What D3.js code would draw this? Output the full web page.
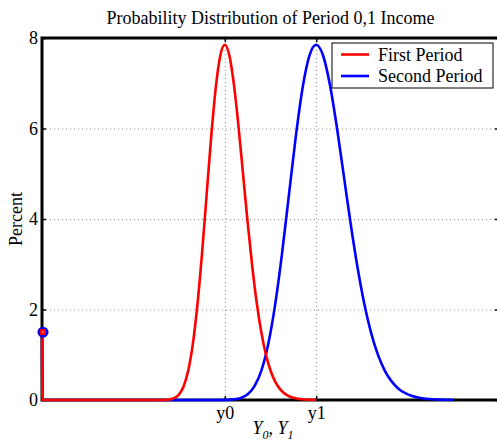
<!DOCTYPE html>
<html>
<head>
<meta charset="utf-8">
<script src="https://cdn.jsdelivr.net/npm/d3@7"></script>
<style>
  html, body { margin: 0; padding: 0; background: #fff; }
  svg { display: block; font-family: "Liberation Serif", "Times New Roman", serif; }
</style>
</head>
<body>
<svg id="chart" width="497" height="444"></svg>
<script>
// Income grid and percent for the first period distribution (mass point at 0 first)
const firstIncome = [0, 0.1, 26, 27, 28, 29, 30, 31, 32, 33, 34, 35, 36, 37, 38, 39, 40,
  41, 42, 43, 44, 45, 46, 47, 48, 49, 50, 51, 52, 53, 54, 55, 56, 57, 58, 59, 60];
const firstPercent = [1.5, 0, 0.001, 0.003, 0.014, 0.045, 0.125, 0.305, 0.651, 1.234, 2.096,
  3.219, 4.507, 5.793, 6.883, 7.603, 7.85, 7.614, 6.969, 6.044, 4.985, 3.923, 2.956, 2.139,
  1.490, 1.002, 0.651, 0.411, 0.251, 0.150, 0.087, 0.049, 0.027, 0.015, 0.008, 0.004, 0.002];

// Income grid and percent for the second period distribution
const secondIncome = [0, 0.1, 39, 40.5, 42, 43.5, 45, 46.5, 48, 49.5, 51, 52.5, 54, 55.5, 57,
  58.5, 60, 61.5, 63, 64.5, 66, 67.5, 69, 70.5, 72, 73.5, 75, 76.5, 78, 79.5, 81, 82.5, 84,
  85.5, 87, 88.5, 90];
const secondPercent = [1.5, 0, 0.001, 0.003, 0.014, 0.045, 0.125, 0.305, 0.651, 1.234, 2.096,
  3.219, 4.507, 5.793, 6.883, 7.603, 7.85, 7.614, 6.969, 6.044, 4.985, 3.923, 2.956, 2.139,
  1.490, 1.002, 0.651, 0.411, 0.251, 0.150, 0.087, 0.049, 0.027, 0.015, 0.008, 0.004, 0.002];

const yTicks = [0, 2, 4, 6, 8];
const xTicks = [40, 60];
const xTickLabels = ["y0", "y1"];
const seriesNames = ["First Period", "Second Period"];
const seriesColors = ["#ff0000", "#0000ff"];

const svg = d3.select("#chart");
const plotL = 42, plotR = 499, plotT = 38, plotB = 400;
const FS = 18;

const x = d3.scaleLinear().domain([0, 100]).range([plotL, plotR]);
const y = d3.scaleLinear().domain([0, 8]).range([plotB, plotT]);

// Title
svg.append("text")
  .attr("x", (plotL + plotR) / 2).attr("y", 24)
  .attr("text-anchor", "middle")
  .attr("font-size", FS)
  .text("Probability Distribution of Period 0,1 Income");

// Dotted grid
const grid = svg.append("g").attr("stroke", "#8c8c8c").attr("stroke-width", 1)
  .attr("stroke-dasharray", "1,3");
grid.selectAll("line.h").data(yTicks.filter(v => v > 0 && v < 8)).join("line")
  .attr("class", "h")
  .attr("x1", plotL).attr("x2", plotR)
  .attr("y1", d => y(d) + 0.5).attr("y2", d => y(d) + 0.5);
grid.selectAll("line.v").data(xTicks).join("line")
  .attr("class", "v")
  .attr("y1", plotT).attr("y2", plotB)
  .attr("x1", d => x(d) + 0.5).attr("x2", d => x(d) + 0.5);

// Axes box
svg.append("rect")
  .attr("x", plotL).attr("y", plotT).attr("width", plotR - plotL).attr("height", plotB - plotT)
  .attr("fill", "none").attr("stroke", "#000").attr("stroke-width", 3);

// Y axis (ticks inward)
const yAxis = d3.axisLeft(y).tickValues(yTicks).tickSizeInner(-4).tickSizeOuter(0).tickPadding(4);
const gy = svg.append("g").attr("transform", `translate(${plotL},0)`).call(yAxis);
gy.select(".domain").remove();
gy.selectAll("text").attr("font-size", FS).attr("font-family", "Liberation Serif").attr("fill", "#000");
gy.selectAll("line").attr("stroke-width", 1.5);

// Right-side ticks
const yAxisR = d3.axisRight(y).tickValues(yTicks).tickSizeInner(-4).tickSizeOuter(0).tickFormat("");
const gyr = svg.append("g").attr("transform", `translate(${plotR},0)`).call(yAxisR);
gyr.select(".domain").remove();
gyr.selectAll("line").attr("stroke-width", 1.5);

// X axis
const xAxis = d3.axisBottom(x).tickValues(xTicks).tickFormat((d, i) => xTickLabels[i])
  .tickSizeInner(-4).tickSizeOuter(0).tickPadding(6);
const gx = svg.append("g").attr("transform", `translate(0,${plotB})`).call(xAxis);
gx.select(".domain").remove();
gx.selectAll("text").attr("font-size", FS).attr("font-family", "Liberation Serif").attr("fill", "#000");
gx.selectAll("line").attr("stroke-width", 1.5);

const xAxisT = d3.axisTop(x).tickValues(xTicks).tickSizeInner(-4).tickSizeOuter(0).tickFormat("");
const gxt = svg.append("g").attr("transform", `translate(0,${plotT})`).call(xAxisT);
gxt.select(".domain").remove();
gxt.selectAll("line").attr("stroke-width", 1.5);

// Curves, drawn over the axis lines
const line = d3.line().x(d => x(d[0])).y(d => y(d[1])).curve(d3.curveMonotoneX);
const secondPts = d3.zip(secondIncome, secondPercent);
const firstPts = d3.zip(firstIncome, firstPercent);
svg.append("path").attr("d", line(secondPts)).attr("fill", "none")
  .attr("stroke", seriesColors[1]).attr("stroke-width", 2.6);
svg.append("path").attr("d", line(firstPts)).attr("fill", "none")
  .attr("stroke", seriesColors[0]).attr("stroke-width", 2.6);

// Mass point markers at the lower bound
svg.append("circle")
  .attr("cx", x(secondIncome[0]) + 1).attr("cy", y(secondPercent[0])).attr("r", 5.5)
  .attr("fill", seriesColors[1]);
svg.append("rect")
  .attr("x", x(firstIncome[0]) - 2).attr("y", y(firstPercent[0]) - 3)
  .attr("width", 6).attr("height", 6).attr("fill", seriesColors[0]);
svg.append("circle")
  .attr("cx", x(firstIncome[0]) + 1).attr("cy", y(firstPercent[0])).attr("r", 0.8)
  .attr("fill", "#ffb0b0");

// Axis labels
svg.append("text")
  .attr("transform", `translate(22,${(plotT + plotB) / 2}) rotate(-90)`)
  .attr("text-anchor", "middle").attr("font-size", FS)
  .text("Percent");

const xl = svg.append("text")
  .attr("x", 273).attr("y", 434)
  .attr("text-anchor", "middle").attr("font-size", FS).attr("font-style", "italic");
xl.append("tspan").text("Y");
xl.append("tspan").attr("font-size", 12).attr("dy", 5).text("0");
xl.append("tspan").attr("dy", -5).text(",  Y");
xl.append("tspan").attr("font-size", 12).attr("dy", 5).text("1");

// Legend
const lg = svg.append("g").attr("transform", "translate(332,43)");
lg.append("rect").attr("width", 161).attr("height", 45)
  .attr("fill", "#fff").attr("stroke", "#000").attr("stroke-width", 1);
seriesNames.forEach((name, i) => {
  const cy = 11.5 + i * 21.5;
  lg.append("line").attr("x1", 9).attr("x2", 37).attr("y1", cy).attr("y2", cy)
    .attr("stroke", seriesColors[i]).attr("stroke-width", 2.6);
  lg.append("text").attr("x", 46).attr("y", cy + 6).attr("font-size", FS).text(name);
});
</script>
</body>
</html>
